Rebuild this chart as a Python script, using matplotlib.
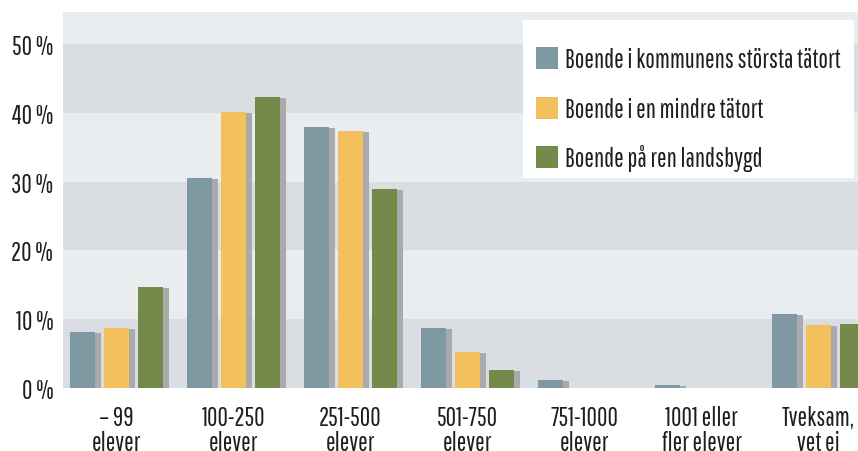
import matplotlib
matplotlib.use("Agg")
import matplotlib.pyplot as plt
from matplotlib.patches import Rectangle
import numpy as np

categories = ["– 99\nelever", "100-250\nelever", "251-500\nelever", "501-750\nelever",
              "751-1000\nelever", "1001 eller\nfler elever", "Tveksam,\nvet ej"]
series_names = ["Boende i kommunens största tätort", "Boende i en mindre tätort", "Boende på ren landsbygd"]
storsta = [8.1, 30.5, 37.9, 8.7, 1.2, 0.45, 10.8]
mindre = [8.7, 40.1, 37.4, 5.2, 0.0, 0.0, 9.2]
landsbygd = [14.7, 42.3, 28.9, 2.6, 0.0, 0.0, 9.3]
yticks = [0, 10, 20, 30, 40, 50]
ytick_labels = ["0 %", "10 %", "20 %", "30 %", "40 %", "50 %"]

colors = ["#7f99a2", "#f3c05e", "#748a4b"]
shadow = "#a9aaac"
light_bg = "#e9edf0"
dark_bg = "#dadde1"
text_color = "#1e1e1e"

FONT = ["Pathway Gothic One", "Oswald", "DejaVu Sans"]
plt.rcParams["font.family"] = FONT
FS = 18.4

W, H = 858, 452
fig = plt.figure(figsize=(W / 100, H / 100), dpi=100)
ax = fig.add_axes([63 / W, (H - 389) / H, (W - 63) / W, (389 - 13) / H])

ymax = 54.65
ax.set_ylim(0, ymax)
ax.set_xlim(-0.457, 6.338)
ax.set_facecolor(light_bg)
for lo in (0, 20, 40):
    ax.axhspan(lo, lo + 10, color=dark_bg, zorder=0, lw=0)

x = np.arange(len(categories))
bw = 25 / 117
step = 34 / 117
sh = 6 / 117
for i, (vals, c) in enumerate(zip([storsta, mindre, landsbygd], colors)):
    pos = x + (i - 1) * step
    v = np.array(vals)
    ax.bar(pos + sh, np.maximum(v - 0.15, 0), width=bw, color=shadow, lw=0, zorder=2)
    ax.bar(pos, v, width=bw, color=c, lw=0, zorder=3)

ax.set_yticks(yticks)
ax.set_yticklabels(ytick_labels, fontsize=FS, color=text_color)
ax.set_xticks(x)
ax.set_xticklabels(categories, fontsize=FS, color=text_color, linespacing=1.03)
ax.tick_params(length=0)
ax.tick_params(axis="y", pad=7)
ax.tick_params(axis="x", pad=12)
for s in ax.spines.values():
    s.set_visible(False)

def fx(px):
    return px / W

def fy(py):
    return 1 - py / H

fig.patches.append(Rectangle((fx(523), fy(179)), (854 - 523) / W, (179 - 21) / H,
                             transform=fig.transFigure, facecolor="white", edgecolor="none", zorder=5))
row_centers = [59, 108.5, 158]
for name, c, yc in zip(series_names, colors, row_centers):
    fig.patches.append(Rectangle((fx(536), fy(yc + 11)), 22 / W, 22 / H,
                                 transform=fig.transFigure, facecolor=c, edgecolor="none", zorder=6))
    fig.text(fx(565), fy(yc + 9.5), name, fontsize=FS, color=text_color,
             ha="left", va="baseline", zorder=7)

fig.savefig("out.png", dpi=100)
